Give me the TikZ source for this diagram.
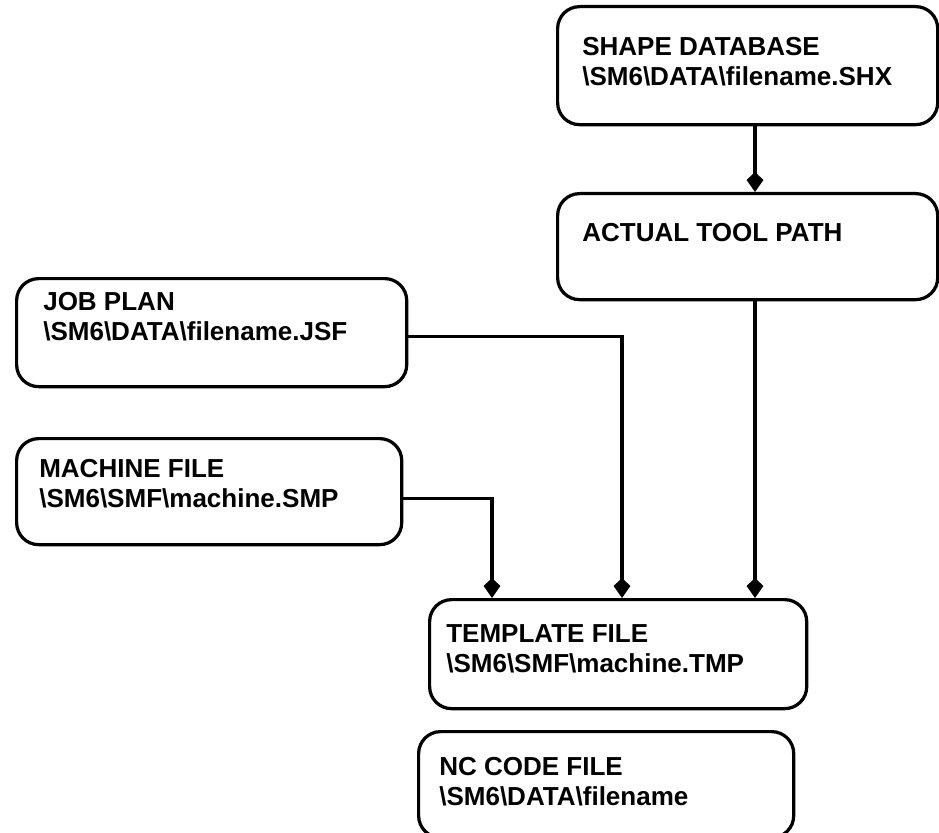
\documentclass[tikz,border=0pt]{standalone}
\usepackage{fontspec}
\setmainfont{Liberation Sans}
\usetikzlibrary{arrows.meta}

\newcommand{\bsl}{\textbackslash}

\tikzset{
  filebox/.style={draw, line width=2.3pt, rounded corners=0.55cm, inner sep=0pt, anchor=north west},
  filetext/.style={anchor=north west, align=left, inner sep=0pt, font=\bfseries\fontsize{18.5}{21.5}\selectfont},
  flow/.style={line width=2.3pt, -{Kite[length=0.5cm,width=0.42cm,inset=0.2cm]}},
}

\begin{document}
\begin{tikzpicture}[x=0.025cm,y=-0.025cm]
\useasboundingbox (0,0) rectangle (939,833);
% file boxes
\node[filebox,minimum width=9.5cm,minimum height=2.95cm] (shape) at (556,5) {};
\node[filebox,minimum width=9.5cm,minimum height=2.65cm] (path) at (556,192) {};
\node[filebox,minimum width=9.75cm,minimum height=2.7cm] (job) at (15,277) {};
\node[filebox,minimum width=9.625cm,minimum height=2.65cm] (machine) at (15,437) {};
\node[filebox,minimum width=9.425cm,minimum height=2.725cm] (template) at (428,598) {};
\node[filebox,minimum width=9.375cm,minimum height=2.65cm] (nccode) at (417,730) {};
% labels
\node[filetext] (shape-txt) at ([shift={(0.65cm,-0.8cm)}]shape.north west) {SHAPE DATABASE\\\bsl SM6\bsl DATA\bsl filename.SHX};
\node[filetext] (path-txt) at ([shift={(0.65cm,-0.78cm)}]path.north west) {ACTUAL TOOL PATH};
\node[filetext] (job-txt) at ([shift={(0.7cm,-0.38cm)}]job.north west) {JOB PLAN\\\bsl SM6\bsl DATA\bsl filename.JSF};
\node[filetext] (machine-txt) at ([shift={(0.6cm,-0.55cm)}]machine.north west) {MACHINE FILE\\\bsl SM6\bsl SMF\bsl machine.SMP};
\node[filetext] (template-txt) at ([shift={(0.45cm,-0.65cm)}]template.north west) {TEMPLATE FILE\\\bsl SM6\bsl SMF\bsl machine.TMP};
\node[filetext] (nccode-txt) at ([shift={(0.55cm,-0.68cm)}]nccode.north west) {NC CODE FILE\\\bsl SM6\bsl DATA\bsl filename};
% drop points on the template box
\coordinate (pathdrop) at (755,0);
\coordinate (jobdrop) at (622,0);
\coordinate (machdrop) at (492,0);
% connectors
\draw[flow] (shape.south -| pathdrop) -- (path.north -| pathdrop);
\draw[flow] (path.south -| pathdrop) -- (template.north -| pathdrop);
\draw[flow] ([yshift=-0.1cm]job.east) -| (template.north -| jobdrop);
\draw[flow] ([yshift=-0.18cm]machine.east) -| (template.north -| machdrop);
\end{tikzpicture}
\end{document}
